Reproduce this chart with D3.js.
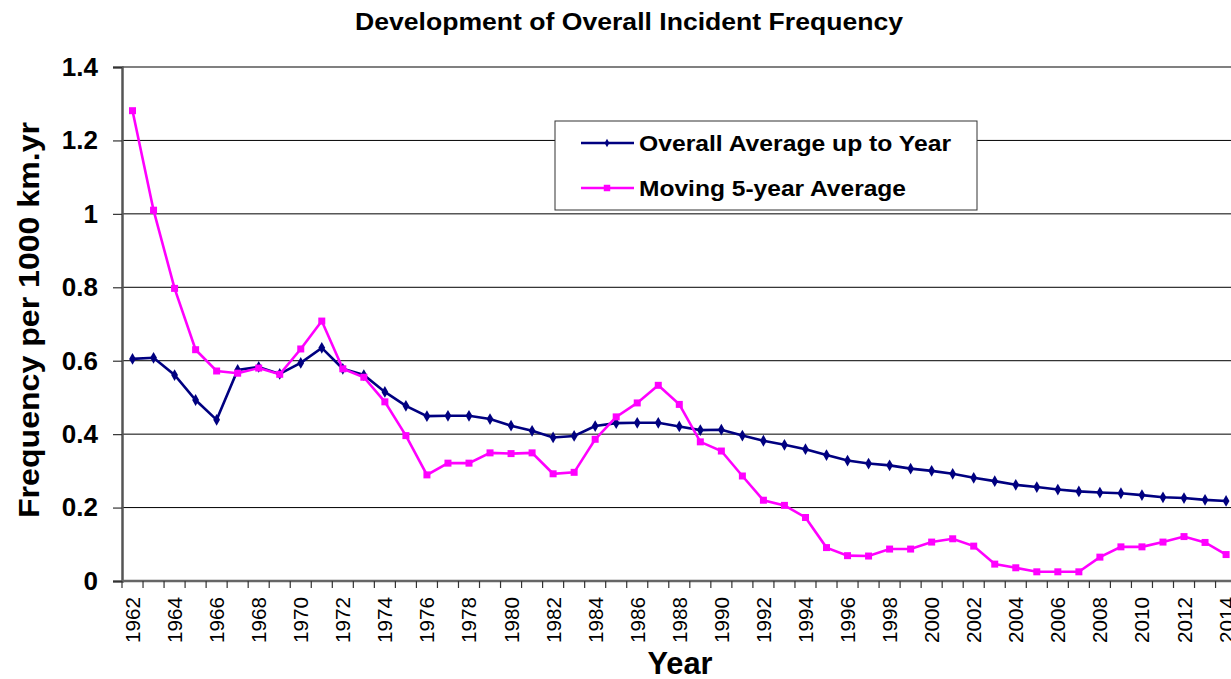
<!DOCTYPE html>
<html>
<head>
<meta charset="utf-8">
<script src="https://cdn.jsdelivr.net/npm/d3@7"></script>
<style>
  body { margin: 0; background: #fff; }
  svg { display: block; font-family: Arial, "Liberation Sans", sans-serif; }
</style>
</head>
<body>
<svg id="chart" width="1231" height="679"></svg>
<script>
// years on the category axis
var years = d3.range(1962, 2015);

// overall average up to year (navy, diamonds)
var overallAvg = [0.605, 0.608, 0.561, 0.493, 0.439, 0.575, 0.583, 0.564, 0.594, 0.635,
  0.578, 0.561, 0.515, 0.477, 0.449, 0.450, 0.450, 0.441, 0.423, 0.409,
  0.391, 0.395, 0.422, 0.430, 0.431, 0.431, 0.421, 0.411, 0.412, 0.396,
  0.382, 0.371, 0.359, 0.343, 0.328, 0.320, 0.315, 0.306, 0.300, 0.292,
  0.281, 0.272, 0.262, 0.256, 0.249, 0.244, 0.241, 0.239, 0.234, 0.228,
  0.226, 0.221, 0.218];

// moving 5-year average (magenta, squares)
var movingAvg = [1.281, 1.010, 0.797, 0.630, 0.572, 0.566, 0.580, 0.563, 0.632, 0.708,
  0.578, 0.555, 0.488, 0.396, 0.289, 0.321, 0.321, 0.349, 0.347, 0.349,
  0.292, 0.296, 0.386, 0.447, 0.485, 0.533, 0.481, 0.379, 0.354, 0.286,
  0.220, 0.206, 0.173, 0.091, 0.069, 0.068, 0.087, 0.087, 0.106, 0.115,
  0.095, 0.046, 0.036, 0.025, 0.025, 0.025, 0.065, 0.093, 0.093, 0.106,
  0.121, 0.105, 0.072];

// y tick values and labels
var yTicks = [0, 0.2, 0.4, 0.6, 0.8, 1, 1.2, 1.4];
var yTickLabels = ["0", "0.2", "0.4", "0.6", "0.8", "1", "1.2", "1.4"];

var seriesNames = ["Overall Average up to Year", "Moving 5-year Average"];

var svg = d3.select("#chart");

var plotLeft = 122, plotTop = 67, plotBottom = 581;
var step = 21.03;

var x = d3.scaleBand()
  .domain(years)
  .range([plotLeft, plotLeft + step * years.length])
  .paddingInner(0).paddingOuter(0);

var y = d3.scaleLinear().domain([0, 1.4]).range([plotBottom, plotTop]);

var cx = function(yr) { return x(yr) + x.bandwidth() / 2; };

// title
svg.append("text")
  .attr("x", 629).attr("y", 30)
  .attr("text-anchor", "middle")
  .attr("font-size", 23).attr("font-weight", "bold")
  .attr("textLength", 548).attr("lengthAdjust", "spacingAndGlyphs")
  .text("Development of Overall Incident Frequency");

// gridlines
svg.append("g").selectAll("line")
  .data(yTicks.filter(function(d) { return d > 0 && d < 1.4; }))
  .enter().append("line")
  .attr("x1", plotLeft).attr("x2", 1231)
  .attr("y1", function(d) { return y(d); })
  .attr("y2", function(d) { return y(d); })
  .attr("stroke", "#000").attr("stroke-width", 1);

// top border of the plot area
svg.append("line")
  .attr("x1", plotLeft).attr("x2", 1231)
  .attr("y1", y(1.4)).attr("y2", y(1.4))
  .attr("stroke", "#808080").attr("stroke-width", 2);

// y axis
var yAxis = d3.axisLeft(y)
  .tickValues(yTicks)
  .tickSize(9)
  .tickFormat(function(d, i) { return yTickLabels[i]; });

var gy = svg.append("g")
  .attr("transform", "translate(" + plotLeft + ",0)")
  .call(yAxis);
gy.select(".domain").attr("stroke", "#555").attr("stroke-width", 2.5);
gy.selectAll(".tick line").attr("stroke", "#333").attr("stroke-width", 1.2);
gy.selectAll(".tick text")
  .attr("x", -24)
  .attr("font-size", 26).attr("font-weight", "bold")
  .attr("font-family", "Arial, 'Liberation Sans', sans-serif")
  .attr("fill", "#000");

// x axis line
svg.append("line")
  .attr("x1", plotLeft).attr("x2", 1231)
  .attr("y1", plotBottom).attr("y2", plotBottom)
  .attr("stroke", "#666").attr("stroke-width", 2.5);

// x tick marks at category boundaries
svg.append("g").selectAll("line")
  .data(years)
  .enter().append("line")
  .attr("x1", function(d) { return x(d); })
  .attr("x2", function(d) { return x(d); })
  .attr("y1", plotBottom).attr("y2", plotBottom + 7)
  .attr("stroke", "#333").attr("stroke-width", 1.2);

// x tick labels, every other year
svg.append("g").selectAll("text")
  .data(years.filter(function(d) { return (d - 1962) % 2 === 0; }))
  .enter().append("text")
  .attr("transform", function(d) { return "translate(" + (cx(d) + 7.5) + "," + 597 + ") rotate(-90)"; })
  .attr("text-anchor", "end")
  .attr("font-size", 20)
  .attr("textLength", 46).attr("lengthAdjust", "spacingAndGlyphs")
  .text(function(d) { return d; });

// axis titles
svg.append("text")
  .attr("transform", "translate(39,320) rotate(-90)")
  .attr("text-anchor", "middle")
  .attr("font-size", 30).attr("font-weight", "bold")
  .attr("textLength", 396).attr("lengthAdjust", "spacingAndGlyphs")
  .text("Frequency per 1000 km.yr");

svg.append("text")
  .attr("x", 680).attr("y", 674)
  .attr("text-anchor", "middle")
  .attr("font-size", 31).attr("font-weight", "bold")
  .attr("textLength", 65).attr("lengthAdjust", "spacingAndGlyphs")
  .text("Year");

// lines
var navy = "#000080", magenta = "#FF00FF";

var line = d3.line()
  .x(function(d) { return cx(d.year); })
  .y(function(d) { return y(d.value); });

var overallData = years.map(function(yr, i) { return { year: yr, value: overallAvg[i] }; });
var movingData = years.map(function(yr, i) { return { year: yr, value: movingAvg[i] }; });

var plot = svg.append("g");

plot.append("path").datum(overallData)
  .attr("d", line).attr("fill", "none")
  .attr("stroke", navy).attr("stroke-width", 2.6);

plot.append("path").datum(movingData)
  .attr("d", line).attr("fill", "none")
  .attr("stroke", magenta).attr("stroke-width", 2.6);

var diamond = d3.symbol().type(d3.symbolDiamond).size(40);
var square = d3.symbol().type(d3.symbolSquare).size(49);

plot.append("g").selectAll("path")
  .data(overallData)
  .enter().append("path")
  .attr("d", diamond)
  .attr("transform", function(d) { return "translate(" + cx(d.year) + "," + y(d.value) + ")"; })
  .attr("fill", navy);

plot.append("g").selectAll("path")
  .data(movingData)
  .enter().append("path")
  .attr("d", square)
  .attr("transform", function(d) { return "translate(" + cx(d.year) + "," + y(d.value) + ")"; })
  .attr("fill", magenta);

// legend
var legend = svg.append("g");
legend.append("rect")
  .attr("x", 555).attr("y", 121).attr("width", 422).attr("height", 89)
  .attr("fill", "#fff").attr("stroke", "#333").attr("stroke-width", 1);

var legendItems = [
  { name: seriesNames[0], color: navy, sym: d3.symbol().type(d3.symbolDiamond).size(20), y: 143, len: 312 },
  { name: seriesNames[1], color: magenta, sym: d3.symbol().type(d3.symbolSquare).size(42), y: 188, len: 267 }
];

var li = legend.selectAll(".item").data(legendItems).enter().append("g");
li.append("line")
  .attr("x1", 581).attr("x2", 634)
  .attr("y1", function(d) { return d.y; }).attr("y2", function(d) { return d.y; })
  .attr("stroke", function(d) { return d.color; }).attr("stroke-width", 2.6);
li.append("path")
  .attr("d", function(d) { return d.sym(); })
  .attr("transform", function(d) { return "translate(607," + d.y + ")"; })
  .attr("fill", function(d) { return d.color; });
li.append("text")
  .attr("x", 639).attr("y", function(d) { return d.y + 8; })
  .attr("font-size", 22).attr("font-weight", "bold")
  .attr("textLength", function(d) { return d.len; }).attr("lengthAdjust", "spacingAndGlyphs")
  .text(function(d) { return d.name; });
</script>
</body>
</html>
